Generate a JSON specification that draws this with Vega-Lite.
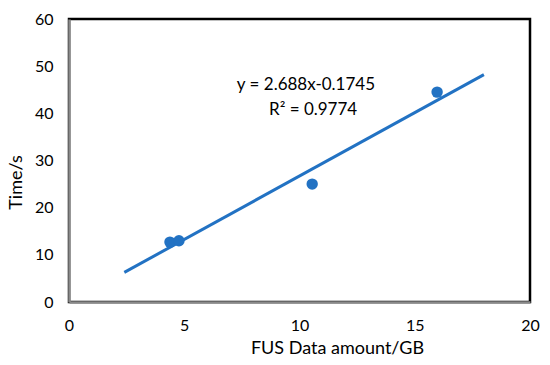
{
  "$schema": "https://vega.github.io/schema/vega-lite/v6.json",
  "width": 461,
  "height": 283,
  "autosize": {"type": "none"},
  "padding": {"left": 69, "top": 19, "right": 20, "bottom": 63},
  "background": "white",
  "config": {
    "font": "Lato",
    "view": {"stroke": "black", "strokeWidth": 2.5},
    "axis": {
      "grid": false,
      "ticks": false,
      "domainColor": "#8a8a8a",
      "domainWidth": 2.5,
      "labelFont": "Lato",
      "labelFontSize": 16,
      "labelColor": "#000000",
      "labelFlush": false,
      "titleFont": "Lato",
      "titleFontSize": 18,
      "titleFontWeight": "normal",
      "titleColor": "#000000"
    }
  },
  "datasets": {
    "points": [
      {"amount": 4.38, "time": 12.7},
      {"amount": 4.77, "time": 13.0},
      {"amount": 10.55, "time": 25.0},
      {"amount": 15.97, "time": 44.5}
    ],
    "trend": [
      {"amount": 2.4, "time": 6.28},
      {"amount": 18.0, "time": 48.21}
    ],
    "labels": [
      {"amount": 10.28, "time": 46.0, "text": "y = 2.688x-0.1745"},
      {"amount": 10.59, "time": 40.7, "text": "R² = 0.9774"}
    ]
  },
  "encoding": {
    "x": {
      "field": "amount",
      "type": "quantitative",
      "scale": {"domain": [0, 20], "nice": false, "zero": true},
      "axis": {"values": [0, 5, 10, 15, 20], "labelPadding": 15, "title": "FUS Data amount/GB", "titlePadding": 6, "titleX": 268}
    },
    "y": {
      "field": "time",
      "type": "quantitative",
      "scale": {"domain": [0, 60], "nice": false},
      "axis": {"values": [0, 10, 20, 30, 40, 50, 60], "labelPadding": 16, "title": "Time/s", "titlePadding": 9, "titleY": 163}
    }
  },
  "layer": [
    {
      "data": {"name": "trend"},
      "mark": {"type": "line", "color": "#2272c3", "strokeWidth": 3}
    },
    {
      "data": {"name": "points"},
      "mark": {"type": "point", "filled": true, "opacity": 1, "color": "#2272c3", "size": 130}
    },
    {
      "data": {"name": "labels"},
      "mark": {"type": "text", "font": "Lato", "fontSize": 17, "color": "#000000", "align": "center", "baseline": "middle"},
      "encoding": {"text": {"field": "text"}}
    }
  ]
}
